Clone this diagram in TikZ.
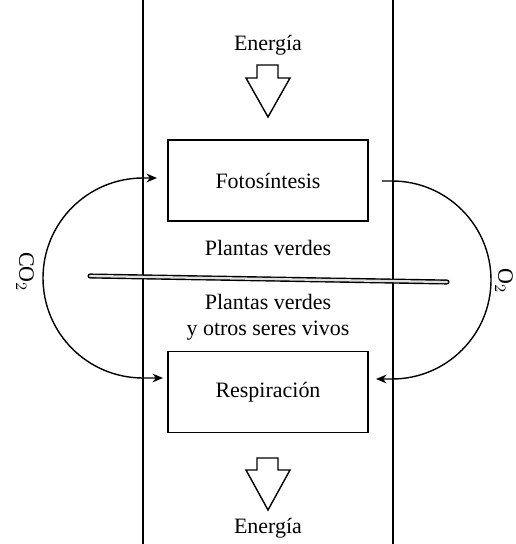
\documentclass[tikz,border=0pt]{standalone}
\usepackage{fontspec}
\setmainfont{Liberation Serif}
\usepackage{tikz}
\usetikzlibrary{positioning,arrows.meta,calc}

\begin{document}
\begin{tikzpicture}[x=0.02cm, y=-0.02cm, font=\fontsize{12.5}{14}\selectfont,
  box/.style={rectangle, draw, line width=0.9pt, minimum width=4cm, minimum height=1.62cm},
  gasflow/.style={line width=0.8pt, -{Stealth[length=6pt,width=5pt]}},
  bigarrow/.style={draw, line width=0.8pt, line join=miter}]
  \useasboundingbox (0,0) rectangle (515,544);
  % walls
  \draw[line width=0.9pt] (143,0) -- (143,544);
  \draw[line width=0.9pt] (393,0) -- (393,544);
  % processes
  \node[box] (fot) at (268,180.5) {Fotosíntesis};
  \node[box] (resp) at (268,392) {Respiración};
  \node (plant) at (268,248) {Plantas verdes};
  \node[align=center, font=\fontsize{12.5}{15}\selectfont] (seres) at (268,317) {Plantas verdes\\y otros seres vivos};
  % divider
  \coordinate (barl) at (90,276);
  \coordinate (barr) at (447,282);
  \draw[line width=0.8pt, double=gray!25, double distance=1.3pt, line cap=round] (barl) -- (barr);
  % energy
  \node (ein) at (268,45) {Energía};
  \node (eout) at (268,528) {Energía};
  \draw[bigarrow] (257,65) -- (278,65) -- (278,78) -- (290,78) -- (268,117) -- (246,78) -- (257,78) -- cycle;
  \draw[bigarrow] (257,458) -- (278,458) -- (278,470) -- (290,470) -- (268,510) -- (246,470) -- (257,470) -- cycle;
  % gases
  \coordinate (co2a) at (157,178);
  \coordinate (co2b) at (163,378);
  \coordinate (o2a) at (382,181);
  \coordinate (o2b) at (376,379);
  \draw[line width=0.8pt, {Stealth[length=6pt,width=5pt]}-{Stealth[length=6pt,width=5pt]}] (co2a) -- (143,178) arc[start angle=-90, end angle=-270, radius=100] -- (co2b);
  \draw[gasflow] (o2a) -- (392,181) arc[start angle=-90, end angle=90, radius=99] -- (o2b);
  \node[rotate=-90] (co2) at (25,272) {CO$_2$};
  \node[rotate=-90] (o2) at (504,281) {O$_2$};
\end{tikzpicture}
\end{document}
